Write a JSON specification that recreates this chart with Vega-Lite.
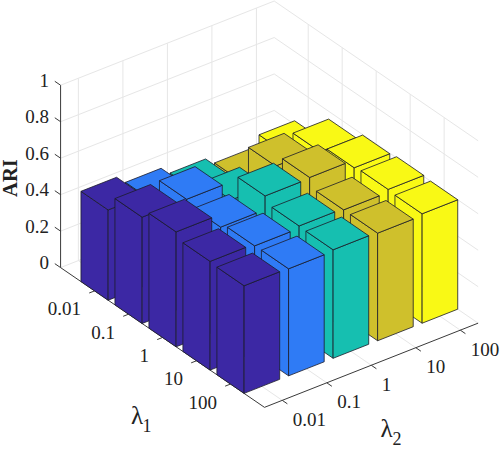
{
"$schema":"https://vega.github.io/schema/vega-lite/v6.json",
"width":500,"height":449,"padding":0,"autosize":{"type":"fit","contains":"padding"},
"background":"white",
"config":{"view":{"stroke":null},"text":{"font":"Liberation Serif","color":"#222222"}},
"datasets":{
"bars":[
{"lambda1":"0.01","i":1,"lambda2":"100","j":5,"ari":0.42},{"lambda1":"0.01","i":1,"lambda2":"10","j":4,"ari":0.362},{"lambda1":"0.01","i":1,"lambda2":"1","j":3,"ari":0.403},{"lambda1":"0.01","i":1,"lambda2":"0.1","j":2,"ari":0.448},{"lambda1":"0.01","i":1,"lambda2":"0.01","j":1,"ari":0.495},
{"lambda1":"0.1","i":2,"lambda2":"100","j":5,"ari":0.557},{"lambda1":"0.1","i":2,"lambda2":"10","j":4,"ari":0.575},{"lambda1":"0.1","i":2,"lambda2":"1","j":3,"ari":0.485},{"lambda1":"0.1","i":2,"lambda2":"0.1","j":2,"ari":0.585},{"lambda1":"0.1","i":2,"lambda2":"0.01","j":1,"ari":0.583},
{"lambda1":"1","i":3,"lambda2":"100","j":5,"ari":0.597},{"lambda1":"1","i":3,"lambda2":"10","j":4,"ari":0.64},{"lambda1":"1","i":3,"lambda2":"1","j":3,"ari":0.635},{"lambda1":"1","i":3,"lambda2":"0.1","j":2,"ari":0.56},{"lambda1":"1","i":3,"lambda2":"0.01","j":1,"ari":0.63},
{"lambda1":"10","i":4,"lambda2":"100","j":5,"ari":0.606},{"lambda1":"10","i":4,"lambda2":"10","j":4,"ari":0.59},{"lambda1":"10","i":4,"lambda2":"1","j":3,"ari":0.598},{"lambda1":"10","i":4,"lambda2":"0.1","j":2,"ari":0.585},{"lambda1":"10","i":4,"lambda2":"0.01","j":1,"ari":0.596},
{"lambda1":"100","i":5,"lambda2":"100","j":5,"ari":0.6},{"lambda1":"100","i":5,"lambda2":"10","j":4,"ari":0.59},{"lambda1":"100","i":5,"lambda2":"1","j":3,"ari":0.595},{"lambda1":"100","i":5,"lambda2":"0.1","j":2,"ari":0.587},{"lambda1":"100","i":5,"lambda2":"0.01","j":1,"ari":0.59}
],
"grid":[
{"i1":0,"j1":0.6,"z1":0,"i2":0,"j2":5.4,"z2":0},{"i1":0,"j1":0.6,"z1":0.2,"i2":0,"j2":5.4,"z2":0.2},{"i1":0,"j1":0.6,"z1":0.4,"i2":0,"j2":5.4,"z2":0.4},{"i1":0,"j1":0.6,"z1":0.6,"i2":0,"j2":5.4,"z2":0.6},{"i1":0,"j1":0.6,"z1":0.8,"i2":0,"j2":5.4,"z2":0.8},{"i1":0,"j1":0.6,"z1":1,"i2":0,"j2":5.4,"z2":1},
{"i1":0,"j1":1,"z1":0,"i2":0,"j2":1,"z2":1},{"i1":0,"j1":2,"z1":0,"i2":0,"j2":2,"z2":1},{"i1":0,"j1":3,"z1":0,"i2":0,"j2":3,"z2":1},{"i1":0,"j1":4,"z1":0,"i2":0,"j2":4,"z2":1},{"i1":0,"j1":5,"z1":0,"i2":0,"j2":5,"z2":1},
{"i1":0,"j1":5.4,"z1":0,"i2":6,"j2":5.4,"z2":0},{"i1":0,"j1":5.4,"z1":0.2,"i2":6,"j2":5.4,"z2":0.2},{"i1":0,"j1":5.4,"z1":0.4,"i2":6,"j2":5.4,"z2":0.4},{"i1":0,"j1":5.4,"z1":0.6,"i2":6,"j2":5.4,"z2":0.6},{"i1":0,"j1":5.4,"z1":0.8,"i2":6,"j2":5.4,"z2":0.8},{"i1":0,"j1":5.4,"z1":1,"i2":6,"j2":5.4,"z2":1},
{"i1":1,"j1":5.4,"z1":0,"i2":1,"j2":5.4,"z2":1},{"i1":2,"j1":5.4,"z1":0,"i2":2,"j2":5.4,"z2":1},{"i1":3,"j1":5.4,"z1":0,"i2":3,"j2":5.4,"z2":1},{"i1":4,"j1":5.4,"z1":0,"i2":4,"j2":5.4,"z2":1},{"i1":5,"j1":5.4,"z1":0,"i2":5,"j2":5.4,"z2":1},
{"i1":1,"j1":0.6,"z1":0,"i2":1,"j2":5.4,"z2":0},{"i1":2,"j1":0.6,"z1":0,"i2":2,"j2":5.4,"z2":0},{"i1":3,"j1":0.6,"z1":0,"i2":3,"j2":5.4,"z2":0},{"i1":4,"j1":0.6,"z1":0,"i2":4,"j2":5.4,"z2":0},{"i1":5,"j1":0.6,"z1":0,"i2":5,"j2":5.4,"z2":0},
{"i1":0,"j1":1,"z1":0,"i2":6,"j2":1,"z2":0},{"i1":0,"j1":2,"z1":0,"i2":6,"j2":2,"z2":0},{"i1":0,"j1":3,"z1":0,"i2":6,"j2":3,"z2":0},{"i1":0,"j1":4,"z1":0,"i2":6,"j2":4,"z2":0},{"i1":0,"j1":5,"z1":0,"i2":6,"j2":5,"z2":0}
],
"axes":[
{"i1":0,"j1":0.6,"z1":0,"i2":0,"j2":0.6,"z2":1},
{"i1":0,"j1":0.6,"z1":0,"i2":-0.17,"j2":0.6,"z2":0},{"i1":0,"j1":0.6,"z1":0.2,"i2":-0.17,"j2":0.6,"z2":0.2},{"i1":0,"j1":0.6,"z1":0.4,"i2":-0.17,"j2":0.6,"z2":0.4},{"i1":0,"j1":0.6,"z1":0.6,"i2":-0.17,"j2":0.6,"z2":0.6},{"i1":0,"j1":0.6,"z1":0.8,"i2":-0.17,"j2":0.6,"z2":0.8},{"i1":0,"j1":0.6,"z1":1,"i2":-0.17,"j2":0.6,"z2":1},
{"i1":0,"j1":0.6,"z1":0,"i2":6,"j2":0.6,"z2":0},
{"i1":1,"j1":0.6,"z1":0,"i2":1,"j2":0.48,"z2":0},{"i1":2,"j1":0.6,"z1":0,"i2":2,"j2":0.48,"z2":0},{"i1":3,"j1":0.6,"z1":0,"i2":3,"j2":0.48,"z2":0},{"i1":4,"j1":0.6,"z1":0,"i2":4,"j2":0.48,"z2":0},{"i1":5,"j1":0.6,"z1":0,"i2":5,"j2":0.48,"z2":0},
{"i1":6,"j1":0.6,"z1":0,"i2":6,"j2":5.4,"z2":0},
{"i1":6,"j1":1,"z1":0,"i2":6.15,"j2":1,"z2":0},{"i1":6,"j1":2,"z1":0,"i2":6.15,"j2":2,"z2":0},{"i1":6,"j1":3,"z1":0,"i2":6.15,"j2":3,"z2":0},{"i1":6,"j1":4,"z1":0,"i2":6.15,"j2":4,"z2":0},{"i1":6,"j1":5,"z1":0,"i2":6.15,"j2":5,"z2":0}
]
},
"encoding":{
"x":{"field":"px","type":"quantitative","scale":{"domain":[0,500],"nice":false,"zero":false},"axis":null},
"y":{"field":"py","type":"quantitative","scale":{"domain":[449,0],"nice":false,"zero":false},"axis":null}
},
"layer":[
{"data":{"name":"grid"},
"transform":[
{"calculate":"60.7+34.05*datum.i1+44.6*(datum.j1-0.6)","as":"px"},
{"calculate":"269+23.5*datum.i1-17.7*(datum.j1-0.6)-184*datum.z1","as":"py"},
{"calculate":"60.7+34.05*datum.i2+44.6*(datum.j2-0.6)","as":"px2"},
{"calculate":"269+23.5*datum.i2-17.7*(datum.j2-0.6)-184*datum.z2","as":"py2"}],
"mark":{"type":"rule","stroke":"#e6e6e6","strokeWidth":1},
"encoding":{"x2":{"field":"px2"},"y2":{"field":"py2"}}},
{"data":{"name":"axes"},
"transform":[
{"calculate":"60.7+34.05*datum.i1+44.6*(datum.j1-0.6)","as":"px"},
{"calculate":"269+23.5*datum.i1-17.7*(datum.j1-0.6)-184*datum.z1","as":"py"},
{"calculate":"60.7+34.05*datum.i2+44.6*(datum.j2-0.6)","as":"px2"},
{"calculate":"269+23.5*datum.i2-17.7*(datum.j2-0.6)-184*datum.z2","as":"py2"}],
"mark":{"type":"rule","stroke":"#3a3a3a","strokeWidth":1},
"encoding":{"x2":{"field":"px2"},"y2":{"field":"py2"}}},
{"data":{"name":"bars"},
"transform":[
{"calculate":"['a','b','c']","as":"face"},{"flatten":["face"]},
{"calculate":"[0,1,2,3,4]","as":"c"},{"flatten":["c"]},
{"calculate":"'f'+datum.i+'_'+datum.j+datum.face","as":"id"},
{"calculate":"datum.face=='b'?1:[0,1,1,0,0][datum.c]","as":"cu"},
{"calculate":"datum.face=='a'?0:(datum.face=='b'?[0,1,1,0,0][datum.c]:[0,0,1,1,0][datum.c])","as":"cw"},
{"calculate":"datum.face=='c'?1:[0,0,1,1,0][datum.c]","as":"cz"},
{"calculate":"datum.i-0.4+0.8*datum.cu","as":"u"},
{"calculate":"datum.j-0.4+0.8*datum.cw","as":"v"},
{"calculate":"60.7+34.05*datum.u+44.6*(datum.v-0.6)","as":"px"},
{"calculate":"269+23.5*datum.u-17.7*(datum.v-0.6)-184*datum.ari*datum.cz","as":"py"}],
"mark":{"type":"line","stroke":"#1c1c2a","strokeWidth":0.8,"strokeJoin":"round"},
"encoding":{
"detail":{"field":"id"},
"order":{"field":"c","type":"quantitative"},
"fill":{"field":"lambda2","type":"nominal","legend":null,"scale":{"domain":["0.01","0.1","1","10","100"],"range":["#3C28A4","#2F7BF5","#16BFB0","#CFC02C","#F9F915"]}}}},
{"data":{"values":[{"label":"0","z":0},{"label":"0.2","z":0.2},{"label":"0.4","z":0.4},{"label":"0.6","z":0.6},{"label":"0.8","z":0.8},{"label":"1","z":1}]},
"transform":[{"calculate":"60.7","as":"px"},{"calculate":"269-184*datum.z","as":"py"}],
"mark":{"type":"text","fontSize":19,"align":"right","baseline":"middle","dx":-11.5,"dy":-4.5},
"encoding":{"text":{"field":"label"}}},
{"data":{"values":[{"label":"0.01","i":1},{"label":"0.1","i":2},{"label":"1","i":3},{"label":"10","i":4},{"label":"100","i":5}]},
"transform":[{"calculate":"60.7+34.05*datum.i","as":"px"},{"calculate":"269+23.5*datum.i","as":"py"}],
"mark":{"type":"text","fontSize":19,"align":"right","baseline":"middle","dx":-13.5,"dy":18.5},
"encoding":{"text":{"field":"label"}}},
{"data":{"values":[{"label":"0.01","j":1},{"label":"0.1","j":2},{"label":"1","j":3},{"label":"10","j":4},{"label":"100","j":5}]},
"transform":[{"calculate":"265+44.6*(datum.j-0.6)","as":"px"},{"calculate":"410-17.7*(datum.j-0.6)","as":"py"}],
"mark":{"type":"text","fontSize":19,"align":"left","baseline":"middle","dx":10.5,"dy":19.5},
"encoding":{"text":{"field":"label"}}},
{"data":{"values":[{"label":"ARI","z":0.5}]},
"transform":[{"calculate":"60.7","as":"px"},{"calculate":"269-184*datum.z","as":"py"}],
"mark":{"type":"text","fontSize":20.5,"fontWeight":"bold","angle":270,"align":"center","baseline":"middle","dx":-1.7,"dy":-49.5},
"encoding":{"text":{"field":"label"}}},
{"data":{"values":[{"label":"λ","i":3}]},
"transform":[{"calculate":"60.7+34.05*datum.i","as":"px"},{"calculate":"269+23.5*datum.i","as":"py"}],
"mark":{"type":"text","fontSize":25,"align":"center","baseline":"middle","dx":-25.5,"dy":79},
"encoding":{"text":{"field":"label"}}},
{"data":{"values":[{"label":"1","i":3}]},
"transform":[{"calculate":"60.7+34.05*datum.i","as":"px"},{"calculate":"269+23.5*datum.i","as":"py"}],
"mark":{"type":"text","fontSize":18,"align":"center","baseline":"middle","dx":-15.5,"dy":90},
"encoding":{"text":{"field":"label"}}},
{"data":{"values":[{"label":"λ","j":3}]},
"transform":[{"calculate":"265+44.6*(datum.j-0.6)","as":"px"},{"calculate":"410-17.7*(datum.j-0.6)","as":"py"}],
"mark":{"type":"text","fontSize":25,"align":"center","baseline":"middle","dx":15.3,"dy":63.5},
"encoding":{"text":{"field":"label"}}},
{"data":{"values":[{"label":"2","j":3}]},
"transform":[{"calculate":"265+44.6*(datum.j-0.6)","as":"px"},{"calculate":"410-17.7*(datum.j-0.6)","as":"py"}],
"mark":{"type":"text","fontSize":18,"align":"center","baseline":"middle","dx":25.7,"dy":75},
"encoding":{"text":{"field":"label"}}}
]
}
